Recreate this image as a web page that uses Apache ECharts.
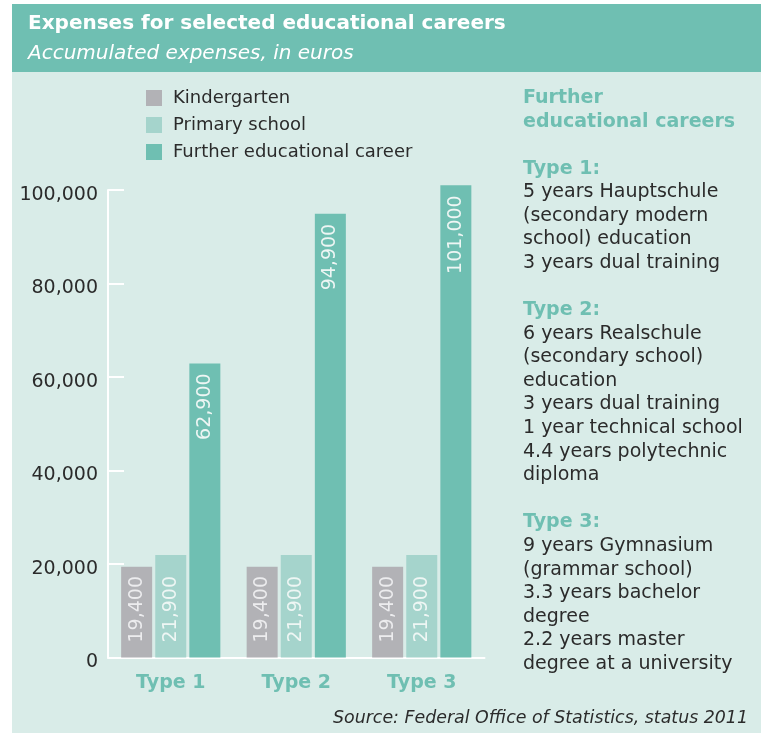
<!DOCTYPE html>
<html>
<head>
<meta charset="utf-8">
<script src="https://cdn.jsdelivr.net/npm/echarts@6/dist/echarts.min.js"></script>
<style>
  html, body { margin: 0; padding: 0; background: #fff; }
  #chart { width: 761px; height: 733px; }
</style>
</head>
<body>
<div id="chart"></div>
<script>
// data
const categories = ['Type 1', 'Type 2', 'Type 3'];
const kindergarten = [19400, 19400, 19400];
const primary = [21900, 21900, 21900];
const further = [62900, 94900, 101000];
const seriesNames = ['Kindergarten', 'Primary school', 'Further educational career'];

// right-hand notes: [text, isHeading]
const notes = [
	['Further', true],
	['educational careers', true],
	['', false],
	['Type 1:', true],
	['5 years Hauptschule', false],
	['(secondary modern', false],
	['school) education', false],
	['3 years dual training', false],
	['', false],
	['Type 2:', true],
	['6 years Realschule', false],
	['(secondary school)', false],
	['education', false],
	['3 years dual training', false],
	['1 year technical school', false],
	['4.4 years polytechnic', false],
	['diploma', false],
	['', false],
	['Type 3:', true],
	['9 years Gymnasium', false],
	['(grammar school)', false],
	['3.3 years bachelor', false],
	['degree', false],
	['2.2 years master', false],
	['degree at a university', false]
];

const TEAL = '#6fbfb2';
const LIGHT = '#a5d4cc';
const GREY = '#b2b2b6';
const FONT = '"DejaVu Sans", Verdana, sans-serif';

const fmt = function(p) {
	return p.value.toLocaleString('en-US');
};

const myChart = echarts.init(document.getElementById('chart'));

const noteGraphics = notes
	.map(function(item, i) {
		return {
			type: 'text',
			left: 523,
			top: 97.5 + i * 23.58 - 9,
			style: {
				text: item[0],
				fill: item[1] ? TEAL : '#2b2b2b',
				font: (item[1] ? 'bold ' : '') + '19px ' + FONT
			}
		};
	})
	.filter(function(g) {
		return g.style.text !== '';
	});

myChart.setOption({
	animation: false,
	textStyle: { fontFamily: FONT },
	graphic: [
		{
			type: 'rect',
			z: -10,
			shape: { x: 12, y: 72, width: 749, height: 661 },
			style: { fill: '#d9ece8' }
		},
		{
			type: 'rect',
			z: -10,
			shape: { x: 12, y: 4, width: 749, height: 68 },
			style: { fill: TEAL }
		},
		{
			type: 'text',
			left: 28,
			top: 14,
			style: {
				text: 'Expenses for selected educational careers',
				fill: '#fff',
				font: 'bold 20px ' + FONT
			}
		},
		{
			type: 'text',
			left: 28,
			top: 44,
			style: {
				text: 'Accumulated expenses, in euros',
				fill: '#fff',
				font: 'italic 20px ' + FONT
			}
		},
		{
			type: 'text',
			right: 13,
			top: 710,
			style: {
				text: 'Source: Federal Office of Statistics, status 2011',
				fill: '#2b2b2b',
				font: 'italic 17.4px ' + FONT
			}
		}
	].concat(noteGraphics),
	legend: {
		orient: 'vertical',
		left: 141,
		top: 84,
		itemWidth: 16,
		itemHeight: 16,
		itemGap: 9,
		icon: 'rect',
		textStyle: {
			fontSize: 18,
			color: '#2b2b2b',
			fontFamily: FONT,
			padding: [0, 0, 0, 6]
		},
		data: seriesNames
	},
	grid: {
		left: 108,
		right: 276.5,
		top: 190,
		bottom: 75.5,
		containLabel: false
	},
	xAxis: {
		type: 'category',
		data: categories,
		axisLine: { lineStyle: { color: '#fff', width: 2 } },
		axisTick: {
			inside: true,
			length: 10,
			lineStyle: { color: '#fff', width: 2 }
		},
		axisLabel: {
			margin: 16,
			color: TEAL,
			fontWeight: 'bold',
			fontSize: 19,
			fontFamily: FONT
		}
	},
	yAxis: {
		type: 'value',
		min: 0,
		max: 100000,
		interval: 20000,
		splitLine: { show: false },
		axisLine: { show: true, lineStyle: { color: '#fff', width: 2 } },
		axisTick: {
			show: true,
			inside: true,
			length: 16,
			lineStyle: { color: '#fff', width: 2 }
		},
		axisLabel: {
			margin: 10,
			verticalAlign: 'top',
			lineHeight: 10,
			color: '#2b2b2b',
			fontSize: 19,
			fontFamily: FONT,
			formatter: function(v) {
				return v.toLocaleString('en-US');
			}
		}
	},
	series: [
		{
			name: seriesNames[0],
			type: 'bar',
			data: kindergarten,
			barWidth: 31,
			barGap: '10%',
			clip: false,
			itemStyle: { color: GREY },
			label: {
				show: true,
				position: 'insideBottom',
				rotate: 90,
				align: 'left',
				verticalAlign: 'middle',
				distance: 15,
				color: '#ececee',
				fontSize: 19,
				fontFamily: FONT,
				formatter: fmt
			}
		},
		{
			name: seriesNames[1],
			type: 'bar',
			data: primary,
			barWidth: 31,
			barGap: '10%',
			clip: false,
			itemStyle: { color: LIGHT },
			label: {
				show: true,
				position: 'insideBottom',
				rotate: 90,
				align: 'left',
				verticalAlign: 'middle',
				distance: 15,
				color: '#eef6f4',
				fontSize: 19,
				fontFamily: FONT,
				formatter: fmt
			}
		},
		{
			name: seriesNames[2],
			type: 'bar',
			data: further,
			barWidth: 31,
			barGap: '10%',
			clip: false,
			itemStyle: { color: TEAL },
			label: {
				show: true,
				position: 'insideTop',
				rotate: 90,
				align: 'right',
				verticalAlign: 'middle',
				distance: 10,
				color: '#eef6f4',
				fontSize: 19,
				fontFamily: FONT,
				formatter: fmt
			}
		}
	]
});
</script>
</body>
</html>
